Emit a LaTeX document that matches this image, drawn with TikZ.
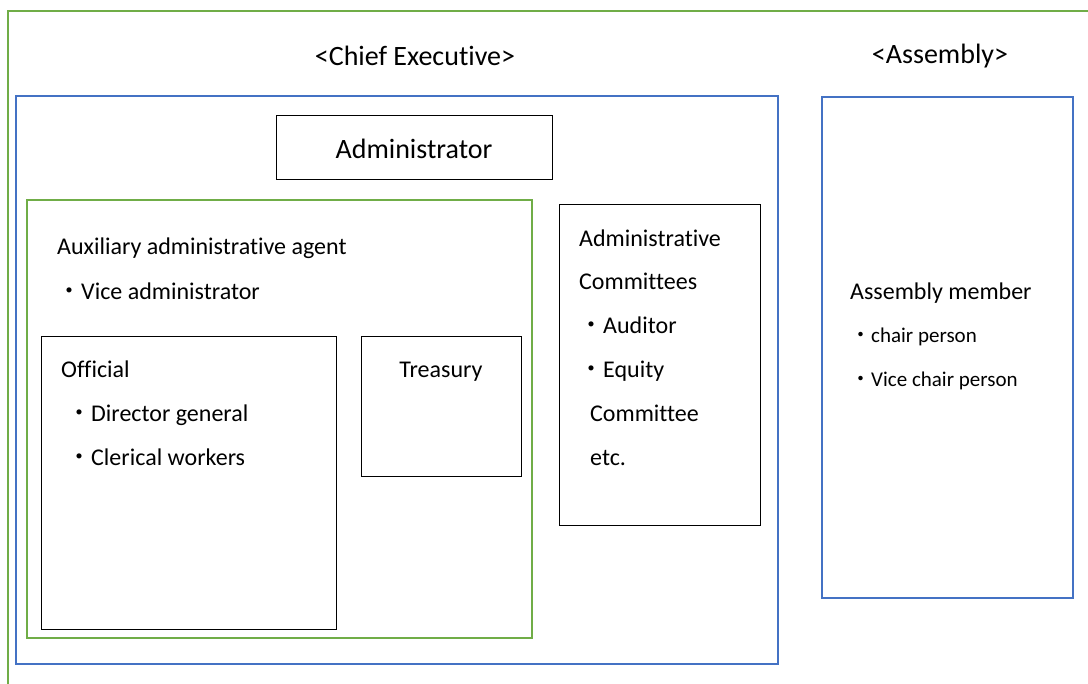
\documentclass[tikz,border=0pt]{standalone}
\usepackage{fontspec}
\setmainfont[RawFeature=-liga]{Carlito}
\newfontfamily\cjk{Noto Sans CJK JP}
\definecolor{grn}{HTML}{70AD47}
\definecolor{blu}{HTML}{4472C4}
\newcommand{\bul}{{\cjk ・}}
\begin{document}
\begin{tikzpicture}[x=1pt,y=-1pt,
  gbox/.style={draw=grn,line width=2pt},
  bbox/.style={draw=blu,line width=2pt},
  kbox/.style={draw=black,line width=1pt},
  big/.style={font=\fontsize{28}{32}\selectfont,inner sep=0pt},
  txt/.style={font=\fontsize{24}{28}\selectfont,inner sep=0pt,anchor=base west},
  sml/.style={font=\fontsize{21}{25}\selectfont,inner sep=0pt,anchor=base west}]
\useasboundingbox (0,0) rectangle (1088,684);
% outer green frame (open to right and bottom)
\coordinate (gbl) at (8,684);
\coordinate (gtl) at (8,11);
\coordinate (gtr) at (1088,11);
\draw[gbox] (gbl) -- (gtl) -- (gtr);
% boxes
\draw[bbox] (16,96) rectangle (778,664);
\draw[bbox] (822,97) rectangle (1073,598);
\node[kbox,minimum width=276pt,minimum height=64pt,inner sep=0pt] (adm) at (414,148) {};
\draw[gbox] (27,200) rectangle (532,638);
\draw[kbox] (41,337) rectangle (336,629);
\draw[kbox] (361,337) rectangle (521,477);
\draw[kbox] (559,205) rectangle (760,526);
% headings
\node[big] (ce) at (415,56) {<Chief Executive>};
\node[big] (as) at (940,56) {<Assembly>};
\node[big] (admt) at (414,149) {Administrator};
% auxiliary
\node[txt] (aux) at (57,255) {Auxiliary administrative agent};
\node[txt] (vice) at (57,300) {\bul Vice administrator};
\node[txt] (off) at (61,378) {Official};
\node[txt] (dg) at (67,422) {\bul Director general};
\node[txt] (cw) at (67,466) {\bul Clerical workers};
\node[txt,anchor=base] (tr) at (441,378) {Treasury};
% committees
\node[txt] (c1) at (579,247) {Administrative};
\node[txt] (c2) at (579,290) {Committees};
\node[txt] (c3) at (579,334) {\bul Auditor};
\node[txt] (c4) at (579,378) {\bul Equity};
\node[txt] (c5) at (590,422) {Committee};
\node[txt] (c6) at (590,466) {etc.};
% assembly
\node[txt] (am) at (850,300) {Assembly member};
\node[sml] (cp) at (850,343) {\bul chair person};
\node[sml] (vcp) at (850,387) {\bul Vice chair person};
\end{tikzpicture}
\end{document}
